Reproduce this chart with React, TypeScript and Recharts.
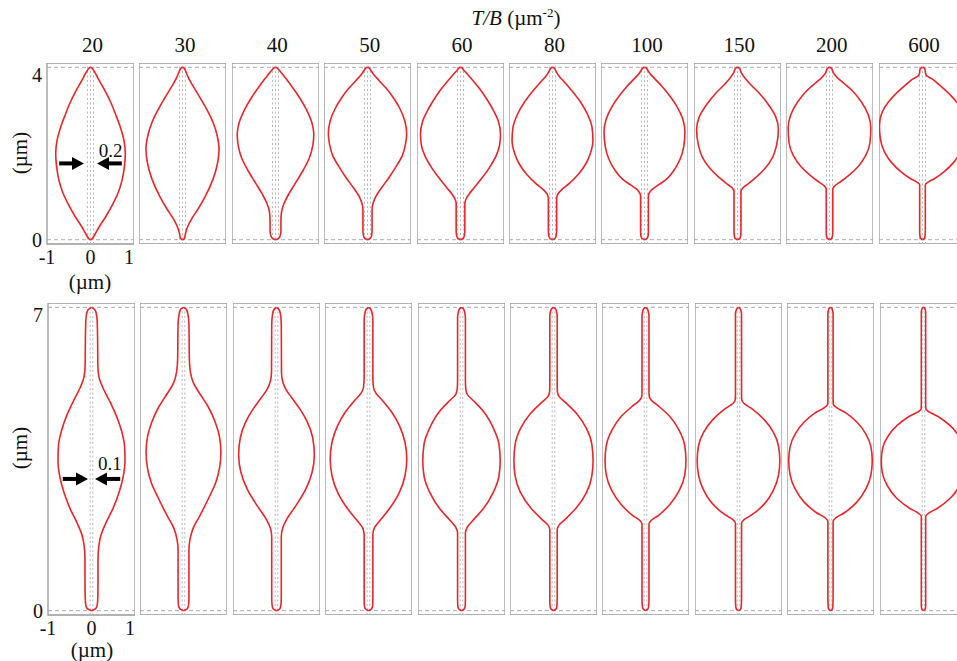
import React from 'react';
import { LineChart, Line, XAxis, YAxis, ReferenceLine, ReferenceArea, ReferenceDot } from 'recharts';

// T/B values (µm^-2), one column each
const tensionLabels = ['20', '30', '40', '50', '60', '80', '100', '150', '200', '600'];

// shape profiles: [z (µm), half-width r (µm)]
// top row, length 4 µm
const top20 = [[0, 0], [0.01, 0.025], [0.04, 0.05], [0.12, 0.1], [0.3, 0.2], [0.55, 0.36], [0.8, 0.5], [1.1, 0.64], [1.4, 0.73], [1.7, 0.78], [2.0, 0.8], [2.3, 0.77], [2.6, 0.69], [2.9, 0.58], [3.2, 0.46], [3.5, 0.31], [3.75, 0.17], [3.9, 0.09], [3.96, 0.05], [3.99, 0.025], [4, 0]];
const top30 = [[0, 0], [0.01, 0.025], [0.04, 0.045], [0.15, 0.07], [0.33, 0.13], [0.5, 0.22], [0.7, 0.35], [1.0, 0.52], [1.4, 0.7], [1.8, 0.81], [2.1, 0.84], [2.4, 0.8], [2.7, 0.71], [3.0, 0.57], [3.3, 0.4], [3.55, 0.25], [3.75, 0.14], [3.89, 0.08], [3.96, 0.05], [3.99, 0.025], [4, 0]];
const top40 = [[0, 0], [0.03, 0.07], [0.1, 0.11], [0.2, 0.125], [0.45, 0.125], [0.65, 0.14], [0.85, 0.2], [1.05, 0.3], [1.3, 0.45], [1.6, 0.63], [1.9, 0.78], [2.2, 0.86], [2.45, 0.88], [2.7, 0.84], [3.0, 0.72], [3.3, 0.55], [3.55, 0.38], [3.75, 0.23], [3.89, 0.12], [3.96, 0.06], [3.99, 0.03], [4, 0]];
const top50 = [[0, 0], [0.03, 0.06], [0.1, 0.095], [0.2, 0.105], [0.7, 0.105], [0.85, 0.13], [1.0, 0.19], [1.2, 0.32], [1.45, 0.5], [1.7, 0.66], [1.95, 0.8], [2.2, 0.87], [2.45, 0.9], [2.75, 0.86], [3.05, 0.74], [3.3, 0.59], [3.5, 0.44], [3.7, 0.26], [3.85, 0.13], [3.94, 0.07], [3.99, 0.03], [4, 0]];
const top60 = [[0, 0], [0.03, 0.06], [0.1, 0.09], [0.2, 0.1], [0.85, 0.1], [0.95, 0.13], [1.05, 0.19], [1.2, 0.31], [1.4, 0.47], [1.65, 0.65], [1.95, 0.82], [2.2, 0.9], [2.45, 0.92], [2.75, 0.87], [3.05, 0.73], [3.3, 0.58], [3.5, 0.44], [3.7, 0.28], [3.85, 0.15], [3.94, 0.07], [3.99, 0.03], [4, 0]];
const top80 = [[0, 0], [0.03, 0.06], [0.1, 0.085], [0.2, 0.095], [0.95, 0.095], [1.05, 0.12], [1.15, 0.2], [1.3, 0.38], [1.5, 0.58], [1.75, 0.76], [2.0, 0.87], [2.3, 0.93], [2.6, 0.91], [2.9, 0.81], [3.2, 0.64], [3.45, 0.45], [3.65, 0.28], [3.82, 0.13], [3.93, 0.07], [3.99, 0.03], [4, 0]];
const top100 = [[0, 0], [0.03, 0.06], [0.1, 0.085], [0.2, 0.09], [1.02, 0.09], [1.1, 0.12], [1.18, 0.19], [1.27, 0.32], [1.4, 0.5], [1.6, 0.67], [1.85, 0.81], [2.15, 0.9], [2.5, 0.93], [2.8, 0.88], [3.1, 0.74], [3.35, 0.57], [3.55, 0.41], [3.72, 0.25], [3.85, 0.13], [3.94, 0.07], [3.99, 0.03], [4, 0]];
const top150 = [[0, 0], [0.03, 0.055], [0.1, 0.075], [0.2, 0.08], [1.12, 0.08], [1.2, 0.12], [1.3, 0.25], [1.45, 0.43], [1.65, 0.63], [1.9, 0.8], [2.2, 0.9], [2.55, 0.94], [2.85, 0.88], [3.15, 0.7], [3.4, 0.5], [3.6, 0.3], [3.75, 0.17], [3.87, 0.09], [3.95, 0.06], [3.99, 0.03], [4, 0]];
const top200 = [[0, 0], [0.03, 0.05], [0.1, 0.07], [0.2, 0.075], [1.18, 0.075], [1.25, 0.12], [1.35, 0.26], [1.5, 0.45], [1.7, 0.66], [1.95, 0.83], [2.25, 0.93], [2.6, 0.95], [2.9, 0.89], [3.2, 0.73], [3.45, 0.53], [3.63, 0.33], [3.77, 0.17], [3.87, 0.09], [3.95, 0.06], [3.99, 0.03], [4, 0]];
const top600 = [[0, 0], [0.03, 0.045], [0.1, 0.06], [0.2, 0.065], [1.27, 0.065], [1.33, 0.12], [1.42, 0.28], [1.58, 0.5], [1.8, 0.72], [2.05, 0.88], [2.35, 0.97], [2.65, 0.99], [2.95, 0.93], [3.2, 0.78], [3.42, 0.58], [3.6, 0.38], [3.73, 0.22], [3.8, 0.1], [3.86, 0.07], [3.94, 0.06], [3.99, 0.03], [4, 0]];

// bottom row, length 7 µm
const bot20 = [[0, 0], [0.04, 0.09], [0.12, 0.13], [0.3, 0.145], [0.8, 0.15], [1.2, 0.15], [1.5, 0.17], [1.75, 0.22], [2.0, 0.32], [2.35, 0.49], [2.75, 0.64], [3.1, 0.73], [3.45, 0.77], [3.8, 0.76], [4.15, 0.69], [4.5, 0.57], [4.85, 0.41], [5.15, 0.26], [5.4, 0.17], [5.7, 0.145], [6.3, 0.14], [6.7, 0.13], [6.9, 0.1], [6.97, 0.05], [7, 0]];
const bot30 = [[0, 0], [0.04, 0.08], [0.12, 0.115], [0.3, 0.125], [1.4, 0.125], [1.65, 0.15], [1.9, 0.22], [2.2, 0.38], [2.6, 0.58], [2.95, 0.74], [3.3, 0.83], [3.65, 0.86], [4.0, 0.83], [4.35, 0.73], [4.7, 0.57], [5.0, 0.38], [5.25, 0.23], [5.5, 0.16], [5.8, 0.135], [6.6, 0.125], [6.85, 0.1], [6.96, 0.06], [7, 0]];
const bot40 = [[0, 0], [0.04, 0.075], [0.12, 0.1], [0.3, 0.11], [1.7, 0.11], [1.9, 0.14], [2.1, 0.23], [2.4, 0.43], [2.8, 0.67], [3.2, 0.82], [3.6, 0.87], [4.0, 0.83], [4.35, 0.71], [4.65, 0.54], [4.9, 0.36], [5.1, 0.22], [5.3, 0.14], [5.5, 0.115], [6.6, 0.11], [6.85, 0.09], [6.96, 0.05], [7, 0]];
const bot50 = [[0, 0], [0.04, 0.07], [0.12, 0.095], [0.3, 0.1], [1.75, 0.1], [1.9, 0.13], [2.05, 0.24], [2.35, 0.48], [2.73, 0.71], [3.12, 0.84], [3.5, 0.88], [3.88, 0.84], [4.27, 0.71], [4.6, 0.52], [4.85, 0.32], [5.02, 0.17], [5.15, 0.115], [5.4, 0.1], [6.7, 0.1], [6.88, 0.08], [6.96, 0.05], [7, 0]];
const bot60 = [[0, 0], [0.04, 0.065], [0.12, 0.085], [0.3, 0.09], [1.8, 0.09], [1.92, 0.13], [2.07, 0.25], [2.35, 0.5], [2.73, 0.73], [3.1, 0.86], [3.46, 0.89], [3.85, 0.86], [4.22, 0.73], [4.58, 0.52], [4.85, 0.27], [4.98, 0.14], [5.1, 0.1], [5.3, 0.09], [6.75, 0.09], [6.9, 0.07], [6.97, 0.04], [7, 0]];
const bot80 = [[0, 0], [0.04, 0.06], [0.12, 0.08], [0.3, 0.085], [1.88, 0.085], [1.98, 0.13], [2.12, 0.28], [2.38, 0.53], [2.73, 0.76], [3.1, 0.88], [3.46, 0.91], [3.85, 0.88], [4.2, 0.76], [4.55, 0.53], [4.8, 0.28], [4.94, 0.13], [5.05, 0.09], [5.2, 0.085], [6.8, 0.085], [6.92, 0.065], [6.97, 0.04], [7, 0]];
const bot100 = [[0, 0], [0.04, 0.055], [0.12, 0.075], [0.3, 0.08], [2.0, 0.08], [2.08, 0.13], [2.2, 0.3], [2.45, 0.56], [2.78, 0.78], [3.12, 0.9], [3.46, 0.93], [3.82, 0.9], [4.15, 0.78], [4.48, 0.56], [4.72, 0.3], [4.86, 0.13], [4.95, 0.085], [5.1, 0.08], [6.8, 0.08], [6.92, 0.06], [6.97, 0.04], [7, 0]];
const bot150 = [[0, 0], [0.04, 0.05], [0.12, 0.065], [0.3, 0.07], [2.02, 0.07], [2.1, 0.13], [2.22, 0.32], [2.47, 0.6], [2.8, 0.81], [3.13, 0.92], [3.46, 0.95], [3.8, 0.92], [4.12, 0.8], [4.42, 0.58], [4.65, 0.32], [4.78, 0.13], [4.86, 0.075], [5.0, 0.07], [6.85, 0.07], [6.94, 0.05], [6.98, 0.03], [7, 0]];
const bot200 = [[0, 0], [0.04, 0.045], [0.12, 0.055], [0.3, 0.06], [2.06, 0.06], [2.14, 0.12], [2.26, 0.32], [2.5, 0.6], [2.82, 0.82], [3.14, 0.93], [3.46, 0.96], [3.78, 0.93], [4.08, 0.81], [4.36, 0.6], [4.56, 0.36], [4.68, 0.15], [4.76, 0.065], [4.9, 0.06], [6.85, 0.06], [6.94, 0.045], [6.98, 0.03], [7, 0]];
const bot600 = [[0, 0], [0.04, 0.04], [0.12, 0.05], [0.3, 0.05], [2.18, 0.05], [2.25, 0.12], [2.37, 0.33], [2.6, 0.62], [2.9, 0.84], [3.2, 0.95], [3.46, 0.97], [3.75, 0.94], [4.02, 0.82], [4.28, 0.6], [4.47, 0.35], [4.58, 0.14], [4.65, 0.055], [4.8, 0.05], [6.9, 0.05], [6.96, 0.035], [6.99, 0.02], [7, 0]];

const topRow = [top20, top30, top40, top50, top60, top80, top100, top150, top200, top600];
const bottomRow = [bot20, bot30, bot40, bot50, bot60, bot80, bot100, bot150, bot200, bot600];

// gray dotted guide lines near the axis
const topGuides = [-0.07, 0, 0.07];
const bottomGuides = [-0.03, 0.03];

const RED = '#e8262c';
const FONT = '"Liberation Serif", "DejaVu Serif", serif';
const PANEL_W = 87;
const PITCH = 92.4;

type Arrow = { z: number; tail: number; tip: number; label: string; lx: number; lz: number };

function ArrowShape(props: any) {
   const { x1, y1, x2, y2 } = props;
   const dir = x2 > x1 ? 1 : -1;
   const head = 12;
   return (
      <g>
         <line x1={x1} y1={y1} x2={x2 - dir * head + dir} y2={y2} stroke="#000" strokeWidth={4} />
         <polygon
            points={`${x2},${y2} ${x2 - dir * head},${y2 - 6.5} ${x2 - dir * head},${y2 + 6.5}`}
            fill="#000"
         />
      </g>
   );
}

interface PanelProps {
   profile: number[][];
   zMax: number;
   center: number;
   top: number;
   height: number;
   guides: number[];
   showAxes: boolean;
   arrow?: Arrow;
}

function Panel({ profile, zMax, center, top, height, guides, showAxes, arrow }: PanelProps) {
   // walk from the top end down so the screen y is monotone
   const right = [...profile].reverse().map(([z, r]) => ({ x: r, z }));
   const left = right.map((p) => ({ x: -p.x, z: p.z }));
   const yW = showAxes ? 44 : 0;
   const xH = showAxes ? 30 : 0;

   return (
      <div style={{ position: 'absolute', left: center - PANEL_W / 2 - yW, top }}>
         <LineChart width={PANEL_W + yW} height={height + xH} margin={{ top: 0, right: 0, bottom: 0, left: 0 }}>
            <XAxis
               type="number"
               dataKey="x"
               domain={[-1, 1]}
               ticks={[-1, 0, 1]}
               allowDataOverflow
               hide={!showAxes}
               height={xH}
               tickLine={false}
               axisLine={false}
               tickSize={0}
               tickMargin={6}
               tick={{ fill: '#111', fontSize: 20 }}
            />
            <YAxis
               type="number"
               domain={[-0.1, zMax + 0.1]}
               ticks={[0, zMax]}
               allowDataOverflow
               hide={!showAxes}
               width={yW}
               tickLine={false}
               axisLine={false}
               tickSize={0}
               tickMargin={5}
               tick={{ fill: '#111', fontSize: 20 }}
            />
            <ReferenceArea
               x1={-1}
               x2={1}
               y1={-0.1}
               y2={zMax + 0.1}
               fill="none"
               stroke="#999"
               strokeWidth={1.3}
               ifOverflow="visible"
            />
            {guides.map((g) => (
               <ReferenceLine key={g} x={g} stroke="#b8b8b8" strokeDasharray="2 2.5" />
            ))}
            <ReferenceLine y={0} stroke="#aaa" strokeDasharray="4 3" />
            <ReferenceLine y={zMax} stroke="#aaa" strokeDasharray="4 3" />
            <Line
               data={right}
               dataKey="z"
               type="monotoneY"
               stroke={RED}
               strokeWidth={1.6}
               dot={false}
               activeDot={false}
               isAnimationActive={false}
            />
            <Line
               data={left}
               dataKey="z"
               type="monotoneY"
               stroke={RED}
               strokeWidth={1.6}
               dot={false}
               activeDot={false}
               isAnimationActive={false}
            />
            {arrow && (
               <ReferenceLine
                  segment={[{ x: -arrow.tail, y: arrow.z }, { x: -arrow.tip, y: arrow.z }]}
                  shape={ArrowShape}
                  ifOverflow="visible"
               />
            )}
            {arrow && (
               <ReferenceLine
                  segment={[{ x: arrow.tail, y: arrow.z }, { x: arrow.tip, y: arrow.z }]}
                  shape={ArrowShape}
                  ifOverflow="visible"
               />
            )}
            {arrow && (
               <ReferenceDot
                  x={arrow.lx}
                  y={arrow.lz}
                  r={0}
                  fill="none"
                  stroke="none"
                  label={{ value: arrow.label, position: 'center', fill: '#111', fontSize: 19 }}
               />
            )}
         </LineChart>
      </div>
   );
}

const topArrow: Arrow = { z: 1.77, tail: 0.72, tip: 0.15, label: '0.2', lx: 0.46, lz: 2.07 };
const bottomArrow: Arrow = { z: 3.04, tail: 0.66, tip: 0.08, label: '0.1', lx: 0.42, lz: 3.4 };

const textStyle: React.CSSProperties = {
   position: 'absolute',
   width: 80,
   height: 24,
   lineHeight: '24px',
   textAlign: 'center',
   fontSize: 21,
   color: '#111',
   whiteSpace: 'nowrap',
};

const unitStyle: React.CSSProperties = { ...textStyle, height: 20, lineHeight: '20px', fontSize: 21 };

export default function App() {
   const topCenter = (i: number) => 90.5 + i * PITCH;
   const botCenter = (i: number) => 91.5 + i * PITCH;

   return (
      <div
         style={{
            position: 'absolute',
            left: 0,
            top: 0,
            width: 957,
            height: 661,
            overflow: 'hidden',
            background: '#fff',
            fontFamily: FONT,
         }}
      >
         <div style={{ ...textStyle, width: 160, left: 516 - 80, top: 6 }}>
            <i>T/B</i> (µm<sup style={{ fontSize: 13, verticalAlign: 'top', lineHeight: '14px' }}>-2</sup>)
         </div>
         {tensionLabels.map((t, i) => (
            <div key={t} style={{ ...textStyle, left: topCenter(i) + 2 - 40, top: 33 }}>
               {t}
            </div>
         ))}

         {topRow.map((p, i) => (
            <Panel
               key={`top-${i}`}
               profile={p}
               zMax={4}
               center={topCenter(i)}
               top={63}
               height={181}
               guides={topGuides}
               showAxes={i === 0}
               arrow={i === 0 ? topArrow : undefined}
            />
         ))}
         {bottomRow.map((p, i) => (
            <Panel
               key={`bot-${i}`}
               profile={p}
               zMax={7}
               center={botCenter(i)}
               top={303}
               height={312}
               guides={bottomGuides}
               showAxes={i === 0}
               arrow={i === 0 ? bottomArrow : undefined}
            />
         ))}

         {/* axis unit labels */}
         <div style={{ ...unitStyle, left: 20 - 40, top: 153 - 10, transform: 'rotate(-90deg)' }}>(µm)</div>
         <div style={{ ...unitStyle, left: 20 - 40, top: 448 - 10, transform: 'rotate(-90deg)' }}>(µm)</div>
         <div style={{ ...unitStyle, left: 90 - 40, top: 272 }}>(µm)</div>
         <div style={{ ...unitStyle, left: 92 - 40, top: 640 }}>(µm)</div>
      </div>
   );
}
